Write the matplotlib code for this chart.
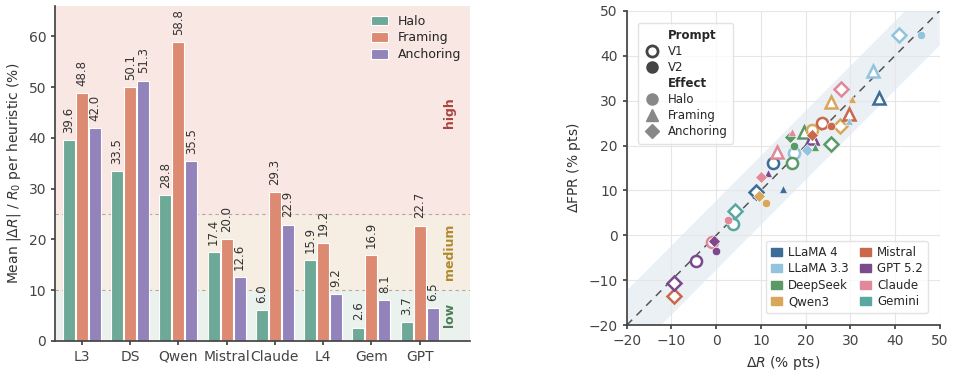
import numpy as np
import matplotlib
matplotlib.use("Agg")
import matplotlib.pyplot as plt
import matplotlib.patches as mpatches
from matplotlib.lines import Line2D
import seaborn as sns

sns.set_theme(style="ticks")
plt.rcParams["font.family"] = ["DejaVu Sans"]

# ---- left panel data ----
groups = ["L3", "DS", "Qwen", "Mistral", "Claude", "L4", "Gem", "GPT"]
halo = [39.6, 33.5, 28.8, 17.4, 6.0, 15.9, 2.6, 3.7]
framing = [48.8, 50.1, 58.8, 20.0, 29.3, 19.2, 16.9, 22.7]
anchoring = [42.0, 51.3, 35.5, 12.6, 22.9, 9.2, 8.1, 6.5]
heur_names = ["Halo", "Framing", "Anchoring"]
heur_colors = ["#6ea897", "#dd8a72", "#9283bb"]

# ---- right panel data ----
model_names = ["LLaMA 4", "LLaMA 3.3", "DeepSeek", "Qwen3",
               "Mistral", "GPT 5.2", "Claude", "Gemini"]
model_colors = ["#3a6d98", "#93c3de", "#5b9a66", "#d8a75a",
                "#c9694c", "#7b4a8d", "#e2889b", "#5aa8a0"]
pt_model = [0, 0, 0, 0,
            1, 1, 1, 1, 1, 1,
            2, 2, 2, 2, 2, 2,
            3, 3, 3, 3, 3, 3,
            4, 4, 4, 4, 4,
            5, 5, 5, 5, 5, 5,
            6, 6, 6, 6, 6, 6,
            7, 7]
pt_prompt = ["V1", "V1", "V2", "V1",
             "V1", "V2", "V1", "V2", "V2", "V1",
             "V1", "V2", "V2", "V2", "V1", "V1",
             "V1", "V2", "V1", "V1", "V2", "V2",
             "V1", "V1", "V2", "V2", "V1",
             "V1", "V2", "V2", "V2", "V1", "V1",
             "V1", "V2", "V1", "V2", "V2", "V1",
             "V1", "V1"]
pt_effect = ["Framing", "Halo", "Framing", "Anchoring",
             "Anchoring", "Halo", "Framing", "Framing", "Anchoring", "Halo",
             "Framing", "Anchoring", "Halo", "Framing", "Anchoring", "Halo",
             "Framing", "Framing", "Anchoring", "Halo", "Anchoring", "Halo",
             "Framing", "Halo", "Halo", "Anchoring", "Anchoring",
             "Framing", "Framing", "Anchoring", "Halo", "Halo", "Anchoring",
             "Anchoring", "Framing", "Framing", "Anchoring", "Halo", "Halo",
             "Anchoring", "Halo"]
pt_dr = [36.4, 12.6, 15.0, 9.0,
         40.9, 45.9, 35.0, 29.7, 20.4, 17.5,
         19.7, 16.6, 17.5, 22.1, 25.6, 16.9,
         25.6, 30.4, 27.8, 21.5, 9.6, 11.2,
         29.7, 23.6, 25.6, 21.5, -9.5,
         21.5, 11.5, -0.4, 0.0, -4.5, -9.4,
         28.0, 16.9, 13.7, 10.0, 2.7, -1.0,
         4.2, 3.7]
pt_dfpr = [30.5, 16.0, 10.4, 9.6,
           44.7, 44.7, 36.6, 25.5, 19.1, 18.4,
           23.0, 21.9, 19.9, 19.7, 20.3, 16.1,
           29.7, 30.3, 24.3, 23.4, 8.7, 7.2,
           27.1, 25.1, 24.4, 22.3, -13.5,
           21.6, 13.8, -1.2, -3.5, -5.8, -10.7,
           32.5, 23.0, 18.6, 13.0, 3.4, -1.5,
           5.5, 2.6]
effect_markers = {"Halo": "o", "Framing": "^", "Anchoring": "D"}

fig = plt.figure(figsize=(9.54, 3.72), dpi=100)

# ---------------- left: bar chart ----------------
ax = fig.add_axes([0.058, 0.084, 0.435, 0.90])
x = np.arange(len(groups))
w = 0.25
step = 0.27
ymax = 66
ax.axhspan(0, 10, color="#ebf2ed", zorder=0)
ax.axhspan(10, 25, color="#f6eee3", zorder=0)
ax.axhspan(25, ymax, color="#f8e7e2", zorder=0)
for yl in [10, 25]:
    ax.axhline(yl, color="#b0aaa5", ls=(0, (3, 3)), lw=0.8, zorder=1)

for k, (vals, name, col) in enumerate(zip([halo, framing, anchoring], heur_names, heur_colors)):
    xs = x + (k - 1) * step
    ax.bar(xs, vals, width=w, color=col, edgecolor="white", linewidth=0.8,
           label=name, zorder=2)
    for xi, v in zip(xs, vals):
        ax.text(xi, v + 1.4, f"{v:.1f}", rotation=90, ha="center", va="bottom",
                fontsize=8.5, color="#333333", zorder=3)

ax.text(7.62, 45, "high", rotation=90, ha="center", va="center",
        fontsize=9, fontweight="bold", color="#a9453f")
ax.text(7.62, 17.5, "medium", rotation=90, ha="center", va="center",
        fontsize=9, fontweight="bold", color="#b08a2e")
ax.text(7.62, 5.0, "low", rotation=90, ha="center", va="center",
        fontsize=9, fontweight="bold", color="#4b7d59")

ax.set_xlim(-0.55, 8.05)
ax.set_ylim(0, ymax)
ax.set_xticks(x)
ax.set_xticklabels(groups)
ax.set_yticks([0, 10, 20, 30, 40, 50, 60])
ax.tick_params(axis="both", labelsize=10, colors="#444444", length=3)
ax.set_ylabel(r"Mean $|\Delta R|$ / $R_0$ per heuristic (%)", fontsize=10, color="#333333")
for s in ["top", "right"]:
    ax.spines[s].set_visible(False)
for s in ["left", "bottom"]:
    ax.spines[s].set_color("#444444")
ax.legend(loc="upper right", frameon=False, fontsize=9, handlelength=1.4,
          handleheight=0.8, borderaxespad=0.3, labelspacing=0.3)

# ---------------- right: scatter ----------------
ax2 = fig.add_axes([0.657, 0.126, 0.328, 0.845])
lim = np.array([-20, 50])
band = 7.7
ax2.fill_between(lim, lim - band, lim + band, color="#e6edf3", alpha=0.8, lw=0, zorder=0)
ax2.plot(lim, lim, ls=(0, (5, 4)), color="#555555", lw=1.1, zorder=1)
ax2.grid(True, color="#e6e6e6", lw=0.8, zorder=0)

for prompt in ["V1", "V2"]:
    for m, p, e, xv, yv in zip(pt_model, pt_prompt, pt_effect, pt_dr, pt_dfpr):
        if p != prompt:
            continue
        col = model_colors[m]
        mk = effect_markers[e]
        if p == "V1":
            ms = 8 if mk != "D" else 7.5
            ax2.plot(xv, yv, marker=mk, ms=ms, mfc="white", mec=col, mew=1.8,
                     ls="none", zorder=3)
        else:
            ms = 6 if mk != "D" else 5.8
            ax2.plot(xv, yv, marker=mk, ms=ms, mfc=col, mec="white", mew=0.4,
                     ls="none", zorder=4)

ax2.set_xlim(-20, 50)
ax2.set_ylim(-20, 50)
ax2.set_xticks(np.arange(-20, 51, 10))
ax2.set_yticks(np.arange(-20, 51, 10))
ax2.tick_params(axis="both", labelsize=10, colors="#444444", length=3)
ax2.set_xlabel(r"$\Delta R$ (% pts)", fontsize=10, color="#333333")
ax2.set_ylabel(r"$\Delta$FPR (% pts)", fontsize=10, color="#333333")
for s in ["top", "right"]:
    ax2.spines[s].set_visible(False)
for s in ["left", "bottom"]:
    ax2.spines[s].set_color("#444444")

blank = Line2D([], [], ls="none", marker=None)
h1 = [blank,
      Line2D([], [], ls="none", marker="o", ms=8, mfc="white", mec="#444444", mew=2),
      Line2D([], [], ls="none", marker="o", ms=8, mfc="#444444", mec="#444444"),
      blank,
      Line2D([], [], ls="none", marker="o", ms=8, mfc="#888888", mec="#888888"),
      Line2D([], [], ls="none", marker="^", ms=8, mfc="#888888", mec="#888888"),
      Line2D([], [], ls="none", marker="D", ms=7.5, mfc="#888888", mec="#888888")]
l1_labels = ["Prompt", "V1", "V2", "Effect", "Halo", "Framing", "Anchoring"]
leg1 = ax2.legend(h1, l1_labels, loc="upper left", fontsize=8.5, frameon=True,
                  handlelength=1.4, labelspacing=0.25, borderpad=0.5,
                  bbox_to_anchor=(0.036, 0.961), borderaxespad=0,
                  handletextpad=0.6)
for t in leg1.get_texts():
    if t.get_text() in ("Prompt", "Effect"):
        t.set_fontweight("bold")
leg1.get_frame().set_edgecolor("#dddddd")
ax2.add_artist(leg1)

h2 = [mpatches.Patch(color=c) for c in model_colors]
leg2 = ax2.legend(h2, model_names,
                  loc="lower right", ncol=2, fontsize=8.5, frameon=True,
                  handlelength=1.0, handleheight=0.7, labelspacing=0.3,
                  columnspacing=0.9, handletextpad=0.5,
                  borderpad=0.4, bbox_to_anchor=(0.962, 0.038), borderaxespad=0)
leg2.get_frame().set_edgecolor("#dddddd")

fig.savefig("out.png", dpi=100)
